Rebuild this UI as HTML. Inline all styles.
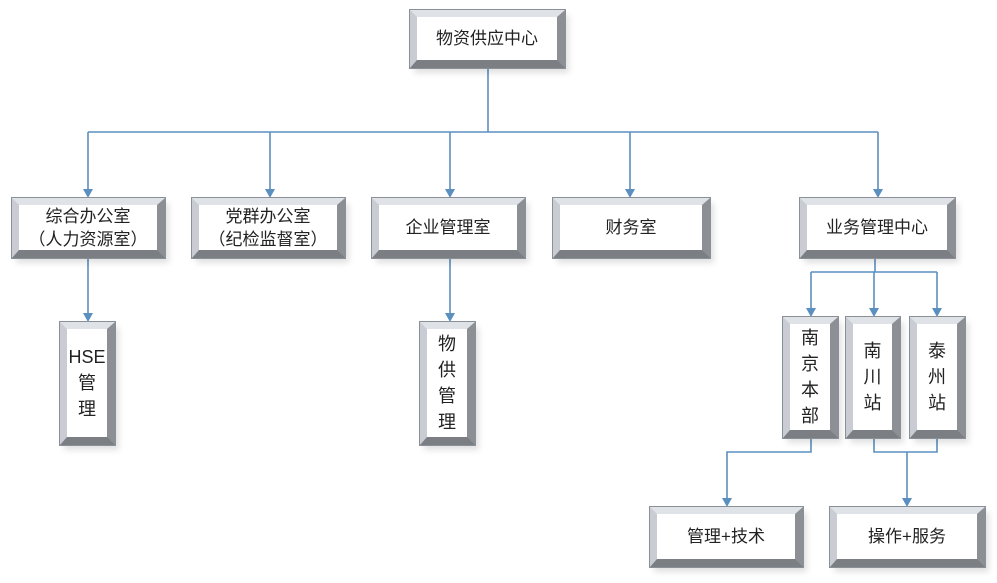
<!DOCTYPE html>
<html><head><meta charset="utf-8"><style>
body{margin:0;width:997px;height:583px;background:#fff;position:relative;overflow:hidden;font-family:"Liberation Sans","Noto Sans CJK SC",sans-serif;}
.b{position:absolute;box-sizing:border-box;background:#fff;border-style:solid;border-width:7px 8px 8px 7px;border-color:#dfe3e8 #8c9095 #7b7e83 #c9cdd3;outline:1px solid #8a9098;display:flex;align-items:center;justify-content:center;text-align:center;font-size:17px;color:#222;line-height:23px;box-shadow:4px 5px 6px rgba(0,0,0,0.12);}
.v{line-height:26px;font-size:18px;}
svg{position:absolute;left:0;top:0}
</style></head><body>
<svg width="997" height="583">
<g stroke="#5b8fc0" stroke-width="1.6" fill="none">
<path d="M488,68 V132 M88,132 H878"/>
<path d="M88,132 V190 M270,132 V190 M450,132 V190 M630,132 V190 M878,132 V190"/>
<path d="M88,258 V314 M450,258 V314"/>
<path d="M875,258 V272 M811,272 H937 M811,272 V309 M874,272 V309 M937,272 V309"/>
<path d="M811,438 V452 H727 V499"/>
<path d="M874,438 V452 H937 V438 M907,452 V499"/>
</g>
<g fill="#5b8fc0">
<path d="M83,189 h10 l-5,9z M265,189 h10 l-5,9z M445,189 h10 l-5,9z M625,189 h10 l-5,9z M873,189 h10 l-5,9z"/>
<path d="M83,313 h10 l-5,9z M445,313 h10 l-5,9z"/>
<path d="M806,308 h10 l-5,9z M869,308 h10 l-5,9z M932,308 h10 l-5,9z"/>
<path d="M722,498 h10 l-5,9z M902,498 h10 l-5,9z"/>
</g></svg>
<div class="b" style="left:410px;top:10px;width:155px;height:58px">物资供应中心</div>
<div class="b" style="left:12px;top:198px;width:153px;height:60px">综合办公室<br>（人力资源室）</div>
<div class="b" style="left:192px;top:198px;width:153px;height:60px">党群办公室<br>（纪检监督室）</div>
<div class="b" style="left:372px;top:198px;width:153px;height:60px">企业管理室</div>
<div class="b" style="left:553px;top:198px;width:157px;height:60px">财务室</div>
<div class="b" style="left:800px;top:198px;width:155px;height:60px">业务管理中心</div>
<div class="b v" style="left:60px;top:322px;width:55px;height:123px">HSE<br>管<br>理</div>
<div class="b v" style="left:420px;top:322px;width:55px;height:123px">物<br>供<br>管<br>理</div>
<div class="b v" style="left:783px;top:317px;width:55px;height:121px">南<br>京<br>本<br>部</div>
<div class="b v" style="left:846px;top:317px;width:54px;height:121px">南<br>川<br>站</div>
<div class="b v" style="left:910px;top:317px;width:55px;height:121px">泰<br>州<br>站</div>
<div class="b" style="left:650px;top:507px;width:153px;height:60px">管理+技术</div>
<div class="b" style="left:830px;top:507px;width:155px;height:60px">操作+服务</div>
</body></html>
